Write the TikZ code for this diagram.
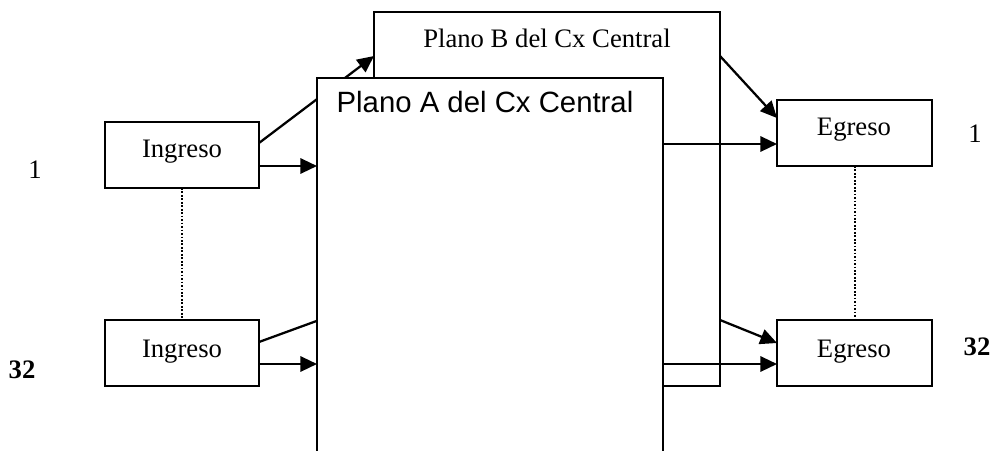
\documentclass[tikz,border=0pt]{standalone}
\usepackage{fontspec}
\setmainfont{Liberation Serif}
\newfontfamily\arialfont{Liberation Sans}
\usetikzlibrary{arrows.meta,calc}
\begin{document}
\begin{tikzpicture}[x=0.75pt,y=-0.75pt,
  box/.style={draw, line width=1.7pt, fill=white, inner sep=0pt, outer sep=0pt},
  lbl/.style={anchor=base, inner sep=0pt, font=\fontsize{20}{24}\selectfont},
  conn/.style={line width=1.7pt, -{Triangle[length=12.5pt,width=11.5pt]}},
  dots/.style={line width=1.5pt, dash pattern=on 1.3pt off 1.3pt}]
\clip (0,0) rectangle (999,450);

% back plane (B) and the links that reach it
\node[box, minimum width=259.5pt, minimum height=280.5pt] (pB) at (547,199) {};
\node[lbl] (tB) at (547,47) {Plano B del Cx Central};

% input and output boxes
\node[box, minimum width=115.5pt, minimum height=49.5pt] (in1) at (182,155) {};
\node[box, minimum width=115.5pt, minimum height=49.5pt] (in2) at (182,353) {};
\node[box, minimum width=116.25pt, minimum height=49.5pt] (eg1) at (854.5,133) {};
\node[box, minimum width=116.25pt, minimum height=49.5pt] (eg2) at (854.5,353) {};

\draw[conn] ($(in1.east)+(0,-12)$) -- ($(pB.north west)+(0,44)$);
\draw[conn] ($(in2.east)+(0,-11)$) -- ($(pB.north west)+(0,288)$);
\draw[conn] ($(pB.north east)+(0,44)$) -- ($(eg1.west)+(0,-15)$);
\draw[conn] ($(pB.north east)+(0,308)$) -- ($(eg2.west)+(0,-10)$);

% front plane (A), open at the bottom
\node[box, minimum width=259.5pt, minimum height=294pt] (pA) at (490,274) {};
\node[lbl, font=\arialfont\fontsize{22}{26}\selectfont] (tA) at (485,112) {Plano A del Cx Central};

% straight links through plane A
\coordinate (aL1) at ($(in1.east)+(0,11)$);
\coordinate (aL2) at ($(in2.east)+(0,11)$);
\coordinate (aR1) at ($(eg1.west)+(0,11)$);
\coordinate (aR2) at ($(eg2.west)+(0,11)$);
\draw[conn] (aL1) -- (aL1 -| pA.west);
\draw[conn] (aL2) -- (aL2 -| pA.west);
\draw[conn] (pA.east |- aR1) -- (aR1);
\draw[conn] (pA.east |- aR2) -- (aR2);

% ranges 1..32
\draw[dots] (in1.south) -- (in2.north);
\draw[dots] (eg1.south) -- (eg2.north);

% texts
\node[lbl] (tI1) at (182,157) {Ingreso};
\node[lbl] (tI2) at (182,357) {Ingreso};
\node[lbl] (tE1) at (854,135) {Egreso};
\node[lbl] (tE2) at (854,357) {Egreso};
\node[lbl] (n1L) at (35,178) {1};
\node[lbl] (n32L) at (22,378) {\bfseries 32};
\node[lbl] (n1R) at (975,142) {1};
\node[lbl] (n32R) at (977,355) {\bfseries 32};
\end{tikzpicture}
\end{document}
